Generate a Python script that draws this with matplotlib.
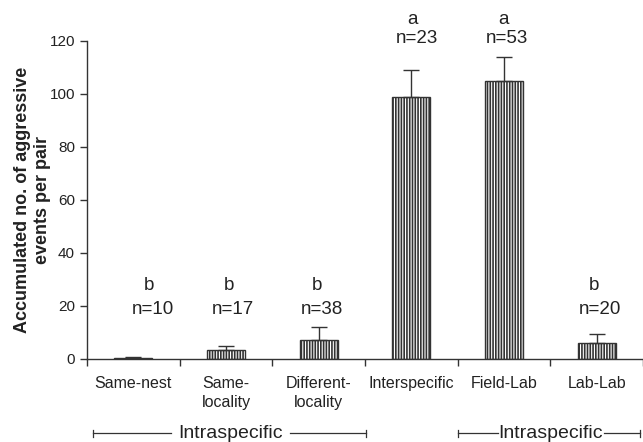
"""
Accumulated aggressive events per pair, by pairing type.
Hatched bars with upper-only error bars and group letters.
"""

import matplotlib
matplotlib.use("Agg")
import matplotlib.pyplot as plt
import numpy as np

# ── Data ──
categories = ["Same-nest", "Same-\nlocality", "Different-\nlocality",
              "Interspecific", "Field-Lab", "Lab-Lab"]
means = [0.4, 3.3, 7.0, 98.7, 105.0, 5.9]
errors = [0.1, 1.6, 4.9, 10.5, 9.0, 3.3]
letters = ["b", "b", "b", "a", "a", "b"]
n_sizes = [10, 17, 38, 23, 53, 20]
y_ticks = [0, 20, 40, 60, 80, 100, 120]
group_labels = ["Intraspecific", "Intraspecific"]

# ── Style ──
TEXT = "#222222"
LINE = "#333333"
plt.rcParams["font.family"] = ["Liberation Sans", "DejaVu Sans"]
plt.rcParams["hatch.linewidth"] = 1.2
plt.rcParams["hatch.color"] = LINE

fig = plt.figure(figsize=(6.43, 4.42), dpi=100)
ax = fig.add_axes([87 / 643, 1 - 358.7 / 442, 1 - 87 / 643, (358.7 - 41) / 442])

x = np.arange(len(categories)) + 0.5
ax.bar(x, means, width=0.41, color="white", edgecolor=LINE, linewidth=1.0,
       hatch="|" * 6, zorder=2)
ax.errorbar(x, means, yerr=[np.zeros(len(errors)), errors], fmt="none",
            ecolor=LINE, elinewidth=1.0, capsize=5.5, capthick=1.0, zorder=3)

# Group letters and sample sizes (labels sit slightly right of bar centres)
let_shift = [0.17, 0.03, -0.02, 0.01, 0.0, -0.03]
n_shift = [0.21, 0.07, 0.04, 0.06, 0.03, 0.04]
for xi, let, n, dl, dn in zip(x, letters, n_sizes, let_shift, n_shift):
    y_let, y_n = (128.0, 121.0) if let == "a" else (27.7, 18.5)
    ax.text(xi + dl, y_let, let, ha="center", va="center", fontsize=13.5,
            color=TEXT, clip_on=False)
    ax.text(xi + dn, y_n, f"n={n}", ha="center", va="center", fontsize=13.5,
            color=TEXT, clip_on=False)

# Axes
ax.set_xlim(0, 6)
ax.set_ylim(0, 120)
ax.set_yticks(y_ticks)
ax.set_yticklabels([str(t) for t in y_ticks], fontsize=11, color=TEXT)
ax.set_xticks(np.arange(7))
ax.set_xticklabels([""] * 7)
ax.xaxis.set_minor_locator(matplotlib.ticker.FixedLocator(x))
ax.set_xticklabels(categories, minor=True, fontsize=11.5, color=TEXT,
                   linespacing=1.3)
ax.tick_params(axis="x", which="minor", length=0, pad=12.5)
ax.tick_params(axis="both", which="major", length=4.7, width=1.0,
               color=LINE, direction="out", pad=4)
for side in ["top", "right"]:
    ax.spines[side].set_visible(False)
for side in ["left", "bottom"]:
    ax.spines[side].set_color(LINE)
    ax.spines[side].set_linewidth(1.0)

fig.text(32.5 / 643, 1 - 199.5 / 442,
         "Accumulated no. of aggressive\nevents per pair",
         rotation=90, ha="center", va="center", fontsize=13,
         fontweight="bold", color=TEXT, linespacing=1.25)

# Group brackets below the axis
y_br = -28.2
brackets = [(0.065, 3.006, 0.91, 2.19), (4.005, 5.965, 4.43, 5.58)]
for (x0, x1, t0, t1), lab in zip(brackets, group_labels):
    ax.plot([x0, t0], [y_br, y_br], color=LINE, lw=0.9, clip_on=False)
    ax.plot([t1, x1], [y_br, y_br], color=LINE, lw=0.9, clip_on=False)
    for xe in (x0, x1):
        ax.plot([xe, xe], [y_br - 1.3, y_br + 1.3], color=LINE, lw=0.9,
                clip_on=False)
    ax.text((t0 + t1) / 2, y_br, lab, ha="center", va="center",
            fontsize=14, color=TEXT, clip_on=False)

fig.savefig("out.png", dpi=100)
